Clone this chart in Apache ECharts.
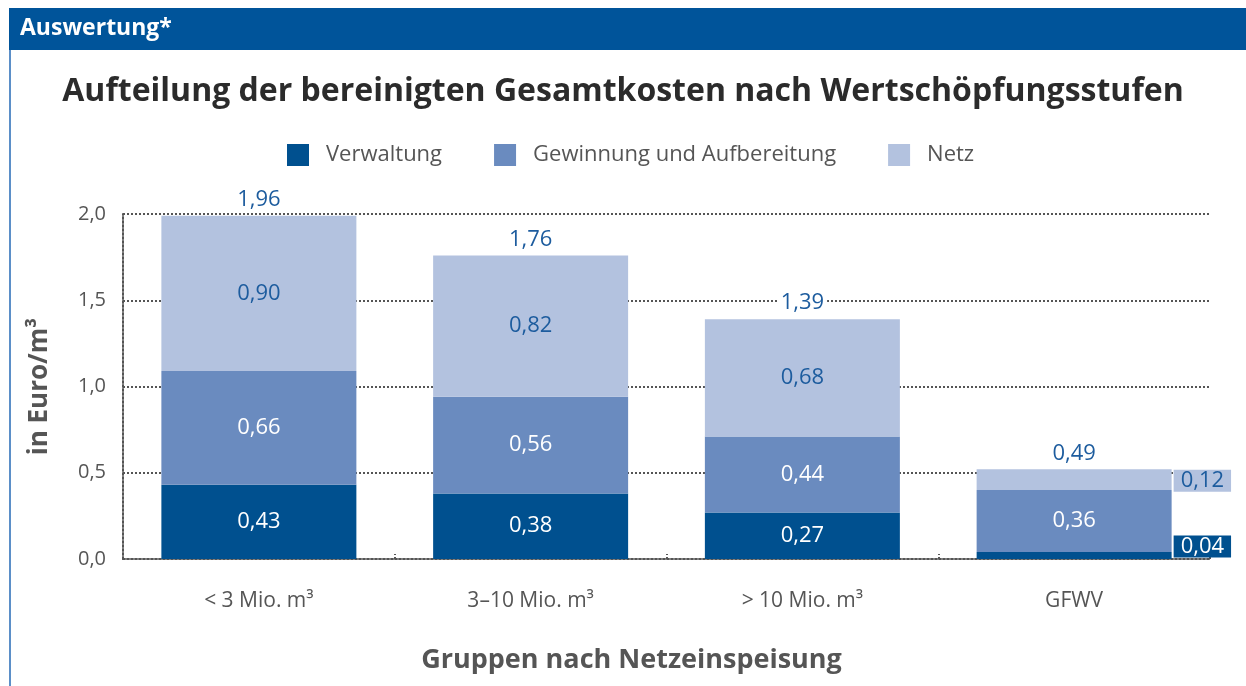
<!DOCTYPE html>
<html>
<head>
<meta charset="utf-8">
<script src="https://cdn.jsdelivr.net/npm/echarts@6/dist/echarts.min.js"></script>
<style>
  html, body { margin: 0; padding: 0; background: #fff; }
  #chart { width: 1246px; height: 686px; }
</style>
</head>
<body>
<div id="chart"></div>
<script>
  // Daten
  var kategorien = ['< 3 Mio. m³', '3–10 Mio. m³', '> 10 Mio. m³', 'GFWV'];
  var verwaltung = [0.43, 0.38, 0.27, 0.04];
  var gewinnung = [0.66, 0.56, 0.44, 0.36];
  var netz = [0.90, 0.82, 0.68, 0.12];
  var summen = [1.96, 1.76, 1.39, 0.49];

  var cDunkel = '#00508f';
  var cMittel = '#6a8bbf';
  var cHell = '#b3c2df';
  var cText = '#1d5c9e';
  var font = '"Open Sans", "Noto Sans", sans-serif';

  function komma(v, d) {
    return Number(v).toFixed(d).replace('.', ',');
  }

  var chart = echarts.init(document.getElementById('chart'));

  var option = {
    animation: false,
    textStyle: {fontFamily: font},
    graphic: [
      {type: 'rect', left: 9, top: 8, shape: {width: 1237, height: 42}, style: {fill: '#00549a'}},
      {type: 'rect', left: 9, top: 50, shape: {width: 2, height: 636}, style: {fill: '#5b8fc8'}},
      {type: 'text', left: 20, top: 17, style: {text: 'Auswertung*', fill: '#fff', font: 'bold 23px ' + font}}
    ],
    title: {
      text: 'Aufteilung der bereinigten Gesamtkosten nach Wertschöpfungsstufen',
      left: 'center',
      top: 71,
      textStyle: {fontSize: 32, fontWeight: 'bold', color: '#2b2b2b', fontFamily: font}
    },
    legend: {
      data: ['Verwaltung', 'Gewinnung und Aufbereitung', 'Netz'],
      left: 282,
      top: 139,
      itemWidth: 22,
      itemHeight: 22,
      itemGap: 52,
      icon: 'rect',
      textStyle: {fontSize: 22, color: '#555', padding: [0, 0, 0, 12], fontFamily: font}
    },
    grid: {left: 123, right: 36, top: 214, bottom: 127},
    xAxis: {
      type: 'category',
      data: kategorien,
      name: 'Gruppen nach Netzeinspeisung',
      nameLocation: 'middle',
      nameGap: 88,
      nameTextStyle: {fontSize: 27, fontWeight: 'bold', color: '#555', padding: [0, 70, 0, 0]},
      axisLine: {lineStyle: {color: '#555', type: 'dotted', width: 2}},
      axisTick: {show: true, inside: true, length: 5, lineStyle: {color: '#555', type: 'dotted', width: 2}},
      axisLabel: {fontSize: 21, color: '#555', margin: 32}
    },
    yAxis: {
      type: 'value',
      min: 0,
      max: 2,
      interval: 0.5,
      name: 'in Euro/m³',
      nameLocation: 'middle',
      nameGap: 70,
      nameTextStyle: {fontSize: 26, fontWeight: 'bold', color: '#555'},
      axisLine: {show: true, lineStyle: {color: '#555', type: 'dotted', width: 2}},
      axisTick: {show: false},
      axisLabel: {fontSize: 20, color: '#555', margin: 17, formatter: function (v) { return komma(v, 1); }},
      splitLine: {lineStyle: {color: '#555', type: 'dotted', width: 2}}
    },
    series: [
      {
        name: 'Verwaltung',
        type: 'bar',
        stack: 'k',
        barWidth: 195,
        itemStyle: {color: cDunkel},
        label: {show: true, position: 'inside', color: '#fff', fontSize: 22,
          formatter: function (p) { return komma(p.value, 2); }},
        data: verwaltung.map(function (v, i) {
          if (i === 3) {
            return {value: v, label: {position: 'right', distance: 2, offset: [0, -9],
              backgroundColor: cDunkel, padding: [0, 7, 0, 7]}};
          }
          return v;
        })
      },
      {
        name: 'Gewinnung und Aufbereitung',
        type: 'bar',
        stack: 'k',
        itemStyle: {color: cMittel},
        label: {show: true, position: 'inside', color: '#fff', fontSize: 22,
          formatter: function (p) { return komma(p.value, 2); }},
        data: gewinnung
      },
      {
        name: 'Netz',
        type: 'bar',
        stack: 'k',
        itemStyle: {color: cHell},
        label: {show: true, position: 'inside', color: cText, fontSize: 22,
          formatter: function (p) { return komma(p.value, 2); }},
        data: netz.map(function (v, i) {
          if (i === 3) {
            return {value: v, label: {position: 'right', distance: 2, offset: [0, 1],
              backgroundColor: cHell, padding: [0, 7, 0, 7]}};
          }
          return v;
        })
      },
      {
        name: 'Summe',
        type: 'bar',
        stack: 'k',
        itemStyle: {color: 'transparent'},
        label: {show: true, position: 'top', distance: 5, color: cText, fontSize: 22,
          backgroundColor: '#fff', padding: [0, 3, 0, 3],
          formatter: function (p) { return komma(summen[p.dataIndex], 2); }},
        data: summen.map(function () { return 0; })
      }
    ]
  };

  chart.setOption(option);
</script>
</body>
</html>
